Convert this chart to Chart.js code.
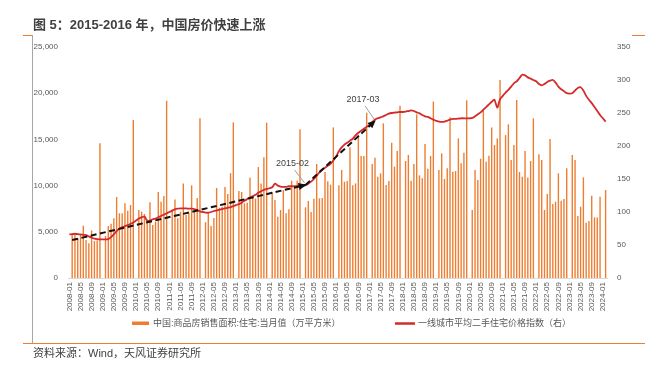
<!DOCTYPE html>
<html><head><meta charset="utf-8">
<script src="https://cdn.jsdelivr.net/npm/chart.js@4.4.1/dist/chart.umd.min.js"></script>
<style>
html,body{margin:0;padding:0;background:#fff;}
#wrap{position:relative;width:645px;height:366px;overflow:hidden;font-family:"Liberation Sans","Noto Sans CJK SC",sans-serif;}
canvas{position:absolute;left:0;top:0;}
.title{position:absolute;left:33px;top:16px;font-size:13px;font-weight:bold;color:#404040;white-space:nowrap;line-height:17px;}
.src{position:absolute;left:33px;top:346px;font-size:11px;color:#404040;white-space:nowrap;line-height:15px;}
.fr{position:absolute;}
</style></head><body>
<div id="wrap">
<canvas id="c" width="645" height="366"></canvas>
<div class="fr" style="left:23px;top:35px;width:9px;height:1px;background:#ED7D31"></div>
<div class="fr" style="left:632px;top:35px;width:13px;height:1px;background:#ED7D31"></div>
<div class="fr" style="left:32px;top:35px;width:1px;height:308px;background:#a6a6a6"></div>
<div class="fr" style="left:23px;top:343px;width:622px;height:1px;background:#ED7D31"></div>
<div class="title">图 5：2015-2016 年，中国房价快速上涨</div>
<div class="src">资料来源：Wind，天风证券研究所</div>
</div>
<script>
// ---- categories (monthly, 2008-01 .. 2024-02) ----
const months = [];
for (let y = 2008; y <= 2024; y++) {
  for (let m = 1; m <= 12; m++) {
    if (y === 2024 && m > 2) break;
    months.push(y + '-' + String(m).padStart(2, '0'));
  }
}

// ---- series: 商品房销售面积:住宅:当月值 (万平方米), January not reported ----
const salesArea = [
  null, 4800, 4900, 4300, 4700, 5650, 4110, 3750, 5150, 4000, 4050, 14570,
  null, 4550, 5630, 5880, 6460, 8770, 7000, 7000, 8080, 7290, 7900, 17100,
  null, 7360, 7180, 6930, 6150, 8200, 5740, 6100, 9310, 8260, 8870, 19190,
  null, 7400, 8500, 6460, 7180, 10240, 6820, 7000, 10030, 7360, 8660, 17280,
  null, 6040, 7030, 5630, 6490, 9740, 7600, 7700, 9860, 9090, 11350, 16840,
  null, 9410, 9310, 8080, 8150, 10860, 8660, 8590, 12010, 10240, 13060, 16810,
  null, 9310, 8440, 6640, 7360, 9520, 7000, 7430, 10530, 9960, 10530, 16090,
  null, 7650, 8330, 7140, 8580, 12340, 8620, 8660, 11470, 10460, 10100, 16300,
  null, 10030, 11690, 10420, 10500, 14140, 10030, 10240, 15440, 13200, 13200, 17890,
  null, 12340, 13020, 10970, 11330, 16740, 10060, 10500, 14640, 12050, 13740, 18650,
  null, 12660, 13310, 10530, 12340, 17710, 11110, 10790, 14500, 11830, 13200, 19100,
  null, 11700, 13490, 10710, 11870, 17390, 11510, 11580, 15110, 12410, 13560, 19230,
  null, 7360, 11690, 10600, 12910, 18180, 12590, 13240, 16300, 14390, 15110, 21430,
  null, 15470, 16630, 12770, 14390, 19260, 11470, 10970, 13740, 10890, 12660, 17280,
  null, 13380, 12770, 7360, 9090, 15040, 8010, 8260, 11330, 8370, 8550, 11870,
  null, 13310, 12770, 6710, 7720, 10890, 5990, 6170, 8910, 6560, 6560, 8800,
  null, 9520
];

// ---- series: 一线城市平均二手住宅价格指数 (right axis) ----
const priceIndex = [
  66, 66.5, 67, 66.5, 66, 65.5, 65, 63, 61, 59.5, 58.8, 58.5,
  58.5, 58.6, 59, 62, 66, 71, 75, 77, 78.5, 80, 82, 84,
  87, 90, 92, 93, 87, 87, 89, 90, 92, 94, 96, 98,
  100, 102, 104, 105, 105.5, 105.5, 105.5, 105, 105, 104.5, 103, 101,
  100, 99, 99, 100, 101.5, 102.5, 103.5, 104.5, 105.5, 106.5, 107.5, 109,
  110.5, 112, 114, 117, 119.5, 122, 124, 126, 129, 131.5, 133.5, 135,
  136, 137.5, 143, 140, 138.5, 138, 138, 139, 139, 139, 139.5, 140,
  140.5, 141, 143, 146, 150, 155, 160, 164, 167, 170, 173, 178,
  184, 192, 198, 202, 205, 208, 211, 216, 220, 223, 226, 229,
  232, 236, 240, 242, 243.5, 245, 247, 249, 250, 250.5, 251, 251.5,
  251.5, 252, 253, 254, 253, 251, 249.5, 247, 245, 244, 242, 240,
  238, 237, 236.5, 237, 238.5, 240, 241, 241, 241.5, 242, 242, 242,
  242, 242.5, 245, 248, 251, 255, 259, 263, 267, 270, 258, 271,
  276, 281, 285, 290, 295, 298, 303, 308, 307, 304, 302, 300,
  298, 294, 292, 294, 297, 299, 300, 296, 290, 286, 283, 280,
  279.5, 280, 284, 288, 289, 284, 276, 270, 265, 259, 253, 247,
  242, 237
];

// ---- trend arrows (right-axis values) ----
const trendA = [{x: '2008-02', y: 57.5}, {x: '2015-02', y: 141}];
const trendB = [{x: '2015-02', y: 141}, {x: '2017-03', y: 238}];
const notes = [{at: '2015-02', text: '2015-02'}, {at: '2017-03', text: '2017-03'}];

// ---- tick values ----
const leftTicks = [0, 5000, 10000, 15000, 20000, 25000];
const rightTicks = [0, 50, 100, 150, 200, 250, 300, 350];

const BAR_COLOR = '#ED7D31';
const LINE_COLOR = '#D42A2A';
const FONT = '"Liberation Sans","Noto Sans CJK SC",sans-serif';
Chart.defaults.font.family = FONT;

const extras = {
  id: 'extras',
  afterDatasetsDraw(chart) {
    const ctx = chart.ctx;
    // arrowheads
    [2, 3].forEach(di => {
      const pts = chart.getDatasetMeta(di).data;
      const p1 = pts[pts.length - 2], p2 = pts[pts.length - 1];
      const ang = Math.atan2(p2.y - p1.y, p2.x - p1.x);
      ctx.save();
      ctx.translate(p2.x, p2.y);
      ctx.rotate(ang);
      ctx.fillStyle = '#111';
      ctx.beginPath();
      ctx.moveTo(1, 0); ctx.lineTo(-7, -3.6); ctx.lineTo(-7, 3.6); ctx.closePath();
      ctx.fill();
      ctx.restore();
    });
    // annotation labels with leader lines
    const xs = chart.scales.x, yr = chart.scales.yR;
    notes.forEach(n => {
      const idx = months.indexOf(n.at);
      const src = (n.at === '2015-02' ? trendA[1] : trendB[1]);
      const px = xs.getPixelForValue(idx), py = yr.getPixelForValue(src.y);
      const dx = n.at === '2015-02' ? -13 : -12;
      ctx.save();
      ctx.strokeStyle = '#a0a0a0'; ctx.lineWidth = 1;
      ctx.beginPath(); ctx.moveTo(px + dx + 2, py - 15); ctx.lineTo(px - 1, py - 2); ctx.stroke();
      ctx.fillStyle = '#404040';
      ctx.font = '9px ' + FONT;
      ctx.textAlign = 'center'; ctx.textBaseline = 'middle';
      ctx.fillText(n.text, px + dx, py - 21);
      ctx.restore();
    });
  },
  afterDraw(chart) {
    const ctx = chart.ctx;
    const ds = chart.data.datasets;
    ctx.save();
    ctx.font = '9px ' + FONT;
    ctx.fillStyle = '#595959';
    ctx.textBaseline = 'middle';
    ctx.fillStyle = BAR_COLOR;
    ctx.fillRect(132, 321.5, 17, 3.5);
    ctx.fillStyle = '#595959';
    ctx.fillText(ds[0].label, 153, 323.5);
    ctx.strokeStyle = LINE_COLOR; ctx.lineWidth = 2.5;
    ctx.beginPath(); ctx.moveTo(395, 323.5); ctx.lineTo(415, 323.5); ctx.stroke();
    ctx.fillText(ds[1].label, 418, 323.5);
    ctx.restore();
  }
};

new Chart(document.getElementById('c'), {
  type: 'bar',
  data: {
    labels: months,
    datasets: [
      {type: 'bar', label: '中国:商品房销售面积:住宅:当月值（万平方米）', data: salesArea,
       backgroundColor: BAR_COLOR, yAxisID: 'yL', barPercentage: 0.5, categoryPercentage: 1.0, order: 3},
      {type: 'line', label: '一线城市平均二手住宅价格指数（右）', data: priceIndex,
       borderColor: LINE_COLOR, borderWidth: 1.8, pointRadius: 0, tension: 0.3, yAxisID: 'yR', order: 2},
      {type: 'line', label: 'trendA', data: trendA, borderColor: '#111', borderWidth: 2,
       borderDash: [6, 3.5], pointRadius: 0, yAxisID: 'yR', order: 1},
      {type: 'line', label: 'trendB', data: trendB, borderColor: '#111', borderWidth: 2,
       borderDash: [6, 3.5], pointRadius: 0, yAxisID: 'yR', order: 0}
    ]
  },
  options: {
    responsive: false,
    animation: false,
    devicePixelRatio: 1,
    layout: {padding: {top: 47, left: 0, right: 0, bottom: 0}},
    plugins: {legend: {display: false}, tooltip: {enabled: false}, title: {display: false}},
    scales: {
      x: {
        type: 'category', offset: true,
        grid: {display: false, drawTicks: false},
        border: {display: true, color: '#d9d9d9'},
        ticks: {autoSkip: false, maxRotation: 90, minRotation: 90, padding: 4,
          font: {size: 8}, color: '#595959',
          callback: (v, i) => (i % 4 === 0 ? months[i] : null)},
        afterFit: s => { s.height = 88; }
      },
      yL: {
        position: 'left', min: 0, max: 25000,
        grid: {display: false, drawTicks: false}, border: {display: false},
        afterBuildTicks: s => { s.ticks = leftTicks.map(v => ({value: v})); },
        ticks: {padding: 10, font: {size: 8}, color: '#595959',
          callback: v => v.toLocaleString('en-US')},
        afterFit: s => { s.width = 68; }
      },
      yR: {
        position: 'right', min: 0, max: 350,
        grid: {display: false, drawTicks: false}, border: {display: false},
        afterBuildTicks: s => { s.ticks = rightTicks.map(v => ({value: v})); },
        ticks: {padding: 10, font: {size: 8}, color: '#595959'},
        afterFit: s => { s.width = 38; }
      }
    }
  },
  plugins: [extras]
});
</script>
</body></html>
